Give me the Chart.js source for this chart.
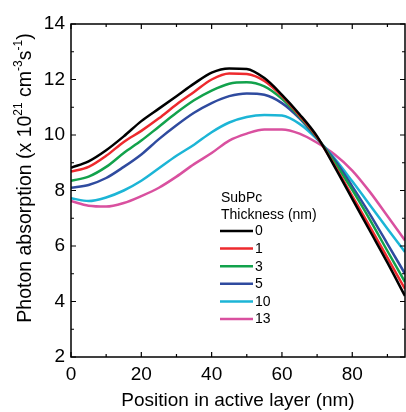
<!DOCTYPE html>
<html>
<head>
<meta charset="utf-8">
<script src="https://cdn.jsdelivr.net/npm/chart.js@4/dist/chart.umd.min.js"></script>
<style>
  html, body { margin: 0; padding: 0; background: #fff; }
  #wrap { width: 406px; height: 412px; position: relative; }
</style>
</head>
<body>
<div id="wrap"><canvas id="c" width="406" height="412"></canvas></div>
<script>
// ---- data ----
const positions = [0, 5, 10, 15, 20, 25, 30, 35, 40, 45, 50, 55, 60, 65, 70, 75, 80, 85, 90, 95];
const thickness0  = [8.82, 9.05, 9.45, 9.95, 10.5, 10.95, 11.4, 11.85, 12.25, 12.4, 12.38, 12.05, 11.45, 10.75, 9.95, 8.85, 7.7, 6.55, 5.4, 4.2];
const thickness1  = [8.68, 8.85, 9.25, 9.75, 10.15, 10.6, 11.1, 11.55, 12.0, 12.22, 12.2, 11.95, 11.4, 10.7, 9.92, 8.9, 7.8, 6.7, 5.58, 4.45];
const thickness3  = [8.35, 8.5, 8.85, 9.35, 9.8, 10.3, 10.8, 11.25, 11.6, 11.85, 11.9, 11.75, 11.3, 10.65, 9.9, 9.02, 8.02, 6.95, 5.82, 4.7];
const thickness5  = [8.1, 8.2, 8.45, 8.85, 9.3, 9.85, 10.35, 10.8, 11.15, 11.4, 11.5, 11.45, 11.15, 10.6, 9.88, 9.1, 8.15, 7.15, 6.08, 5.0];
const thickness10 = [7.72, 7.62, 7.75, 8.0, 8.35, 8.8, 9.25, 9.65, 10.1, 10.45, 10.65, 10.72, 10.7, 10.4, 9.85, 9.15, 8.33, 7.48, 6.62, 5.78];
const thickness13 = [7.62, 7.45, 7.42, 7.55, 7.8, 8.1, 8.5, 8.95, 9.35, 9.8, 10.05, 10.2, 10.2, 10.05, 9.72, 9.3, 8.72, 7.95, 7.08, 6.2];
const seriesLabels = ["0", "1", "3", "5", "10", "13"];
const xTickValues = [0, 20, 40, 60, 80];
const yTickValues = [2, 4, 6, 8, 10, 12, 14];
const xMinorValues = [10, 30, 50, 70, 90];
const yMinorValues = [3, 5, 7, 9, 11, 13];
const legendTitle = ["SubPc", "Thickness (nm)"];
const xTitle = "Position in active layer (nm)";
// y-axis title pieces: [text, isSuperscript]
const yTitleParts = [["Photon absorption (x 10", false], ["21", true], [" cm", false], ["-3", true], ["s", false], ["-1", true], [")", false]];

const colors = ["#000000", "#ee2a2e", "#12a24c", "#2f4b9f", "#1cb5d6", "#d9509f"];
const allSeries = [thickness0, thickness1, thickness3, thickness5, thickness10, thickness13];
const FONT = "'Liberation Sans', Arial, sans-serif";

const datasets = allSeries.map((s, i) => ({
  label: seriesLabels[i],
  data: s.map((v, j) => ({ x: positions[j], y: v })),
  borderColor: colors[i],
  backgroundColor: colors[i],
  borderWidth: 2.5,
  pointRadius: 0,
  cubicInterpolationMode: 'monotone',
  fill: false
}));

const framePlugin = {
  id: 'frame',
  afterDatasetsDraw(chart) {
    const ctx = chart.ctx;
    const a = chart.chartArea;
    const xs = chart.scales.x, ys = chart.scales.y;
    ctx.save();
    ctx.strokeStyle = '#000';
    ctx.lineWidth = 1.5;
    ctx.strokeRect(a.left, a.top, a.right - a.left, a.bottom - a.top);
    ctx.lineWidth = 1.2;
    ctx.beginPath();
    const tick = (vals, len, axis) => {
      vals.forEach(v => {
        if (axis === 'x') {
          const p = xs.getPixelForValue(v);
          ctx.moveTo(p, a.bottom); ctx.lineTo(p, a.bottom - len);
          ctx.moveTo(p, a.top); ctx.lineTo(p, a.top + len);
        } else {
          const p = ys.getPixelForValue(v);
          ctx.moveTo(a.left, p); ctx.lineTo(a.left + len, p);
          ctx.moveTo(a.right, p); ctx.lineTo(a.right - len, p);
        }
      });
    };
    tick(xTickValues, 5, 'x');
    tick(xMinorValues, 3, 'x');
    tick(yTickValues, 5, 'y');
    tick(yMinorValues, 3, 'y');
    ctx.stroke();

    // legend
    ctx.fillStyle = '#000';
    ctx.font = '14px ' + FONT;
    ctx.textBaseline = 'middle';
    ctx.textAlign = 'left';
    const lx = 220, ly = 198;
    legendTitle.forEach((t, i) => ctx.fillText(t, lx + 1, ly + i * 17));
    chart.data.datasets.forEach((d, i) => {
      const y = 231 + i * 17.6;
      ctx.strokeStyle = d.borderColor;
      ctx.lineWidth = 2.5;
      ctx.beginPath();
      ctx.moveTo(lx, y); ctx.lineTo(lx + 33, y);
      ctx.stroke();
      ctx.fillStyle = '#000';
      ctx.fillText(d.label, lx + 35, y + 0.5);
    });

    // y-axis title with superscripts
    const normal = '19.5px ' + FONT, sup = '12px ' + FONT;
    let total = 0;
    yTitleParts.forEach(([t, s]) => { ctx.font = s ? sup : normal; total += ctx.measureText(t).width; });
    ctx.translate(26, 178);
    ctx.rotate(-Math.PI / 2);
    ctx.textBaseline = 'middle';
    let x = -total / 2;
    yTitleParts.forEach(([t, s]) => {
      ctx.font = s ? sup : normal;
      ctx.fillText(t, x, s ? -7 : 0);
      x += ctx.measureText(t).width;
    });
    ctx.restore();
  }
};

new Chart(document.getElementById('c'), {
  type: 'line',
  data: { datasets },
  options: {
    responsive: false,
    animation: false,
    devicePixelRatio: 1,
    layout: { padding: { top: 24, right: 1, left: 0, bottom: 0 } },
    plugins: { legend: { display: false }, tooltip: { enabled: false } },
    scales: {
      x: {
        type: 'linear',
        min: 0, max: 95,
        afterBuildTicks: s => { s.ticks = xTickValues.map(v => ({ value: v })); },
        afterFit: s => { s.height = 55; },
        grid: { display: false, drawTicks: false },
        border: { display: false },
        ticks: { color: '#000', font: { family: FONT, size: 19 }, padding: 6, maxRotation: 0 },
        title: { display: true, text: xTitle, color: '#000', font: { family: FONT, size: 19 }, padding: { top: 6, bottom: 0 } }
      },
      y: {
        type: 'linear',
        min: 2, max: 14,
        afterBuildTicks: s => { s.ticks = yTickValues.map(v => ({ value: v })); },
        afterFit: s => { s.width = 71; },
        grid: { display: false, drawTicks: false },
        border: { display: false },
        ticks: { color: '#000', font: { family: FONT, size: 19 }, padding: 6 },
        title: { display: false }
      }
    }
  },
  plugins: [framePlugin]
});
</script>
</body>
</html>
